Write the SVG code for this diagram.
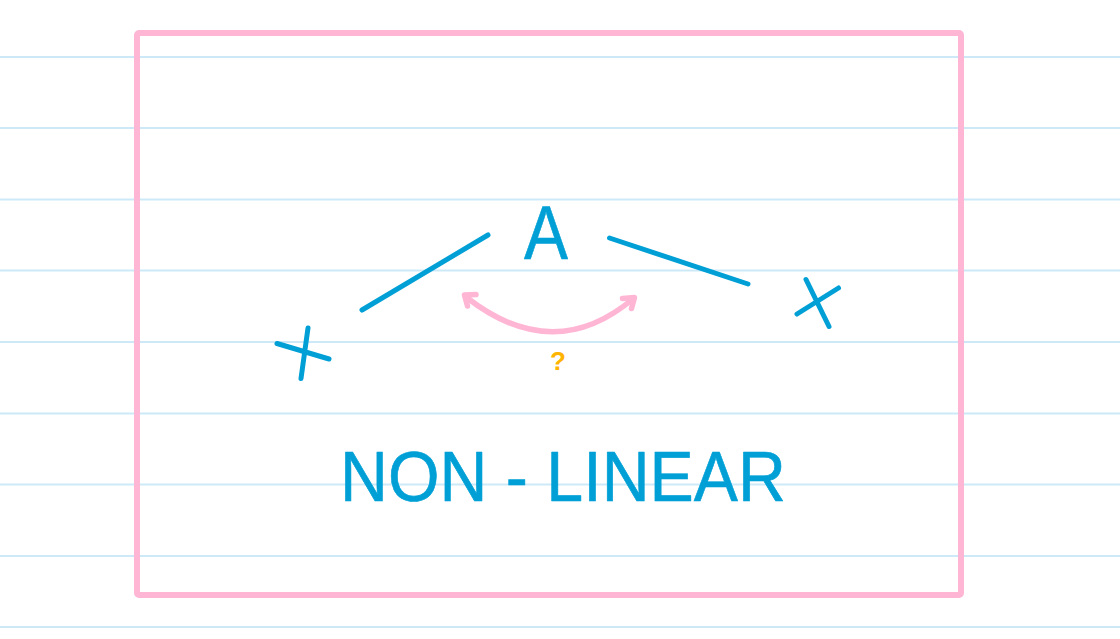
<svg xmlns="http://www.w3.org/2000/svg" width="1120" height="639" viewBox="0 0 1120 639">
<style>
.rule{stroke:#cde9f7;stroke-width:2;fill:none}
.ink{stroke:#00a0d6;stroke-width:5;stroke-linecap:round;stroke-linejoin:round;fill:none}
.pink{stroke:#ffb6d4;stroke-width:5.5;stroke-linecap:round;stroke-linejoin:round;fill:none}
.label{font-family:"Liberation Sans","DejaVu Sans",sans-serif;fill:#00a0d6;stroke:#00a0d6;stroke-width:0.6;stroke-linejoin:round}
</style>
<rect width="1120" height="639" fill="#ffffff"/>
<g id="ruled-lines">
<line class="rule" x1="0" y1="57" x2="1120" y2="57"/>
<line class="rule" x1="0" y1="128" x2="1120" y2="128"/>
<line class="rule" x1="0" y1="199.5" x2="1120" y2="199.5"/>
<line class="rule" x1="0" y1="270.5" x2="1120" y2="270.5"/>
<line class="rule" x1="0" y1="342" x2="1120" y2="342"/>
<line class="rule" x1="0" y1="413.5" x2="1120" y2="413.5"/>
<line class="rule" x1="0" y1="484.5" x2="1120" y2="484.5"/>
<line class="rule" x1="0" y1="556" x2="1120" y2="556"/>
<line class="rule" x1="0" y1="627" x2="1120" y2="627"/>
</g>
<g id="frame">
<rect x="137" y="33" width="824" height="562" rx="2" fill="none" stroke="#ffb6d4" stroke-width="6"/>
</g>
<g id="node-A">
<text class="label" x="524" y="259" font-size="76" textLength="44" lengthAdjust="spacingAndGlyphs">A</text>
</g>
<g id="node-x-left">
<path class="ink" d="M277 343.5 L329 359 M308 328 L301 378.5"/>
</g>
<g id="node-x-right">
<path class="ink" d="M797 314 L838.5 288 M806 279.5 L829 326.5"/>
</g>
<g id="connectors">
<path class="ink" d="M362 310 L488 235"/>
<path class="ink" d="M609.5 238 L748 284"/>
<path class="pink" d="M466 297 Q554 366 634 298"/>
<path class="pink" d="M476 294.5 L464.5 295 L467.5 306"/>
<path class="pink" d="M622.5 298.5 L634.5 297.5 L631.5 308.5"/>
</g>
<g id="question">
<text x="558" y="370" font-family="Liberation Sans, sans-serif" font-size="26" font-weight="bold" fill="#ffb400" text-anchor="middle">?</text>
</g>
<g id="title">
<text class="label" x="340" y="501" font-size="70" textLength="446" lengthAdjust="spacingAndGlyphs">NON - LINEAR</text>
</g>
</svg>
